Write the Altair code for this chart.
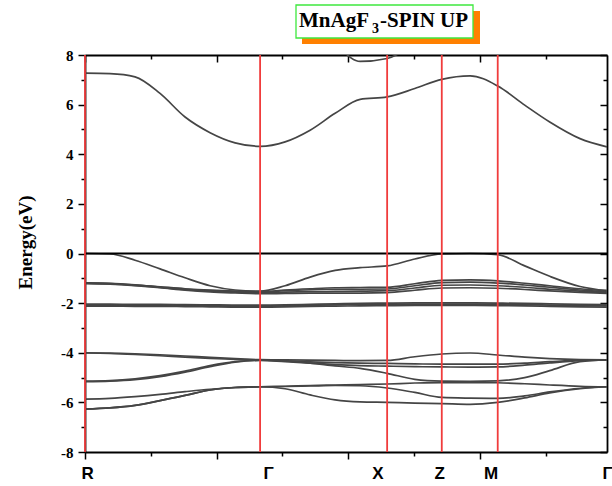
import altair as alt
import pandas as pd

# k-path positions (path length units) of the sampled points
k_grid = [0, 0.38, 0.76, 1.14, 1.52, 1.90, 2.28, 2.66, 3.04, 3.42, 3.80,
          4.18, 4.59, 5.01, 5.42, 5.85, 6.27, 6.68, 7.06, 7.52, 7.93]
nan = float("nan")

# conduction bands
c1 = [7.27, 7.25, 7.12, 6.45, 5.5, 4.87, 4.46, 4.32, 4.5, 4.97, 5.65,
      6.21, 6.31, 6.65, 7.02, 7.16, 6.75, 5.98, 5.3, 4.63, 4.3]
c2 = [nan, nan, nan, nan, nan, nan, nan, nan, nan, 9.4, 8.45,
      7.74, 7.86, 8.45, 9.2, nan, nan, nan, nan, nan, nan]
# valence bands near the Fermi level
v1 = [0.0, -0.02, -0.27, -0.62, -0.98, -1.3, -1.47, -1.52, -1.3, -0.95, -0.68,
      -0.57, -0.5, -0.22, -0.02, 0.0, -0.05, -0.5, -0.92, -1.33, -1.5]
m1 = [-1.18, -1.2, -1.26, -1.34, -1.42, -1.48, -1.52, -1.54, -1.47, -1.42, -1.38,
      -1.37, -1.36, -1.22, -1.08, -1.06, -1.1, -1.2, -1.3, -1.42, -1.5]
m2 = [-1.18, -1.21, -1.27, -1.35, -1.44, -1.5, -1.54, -1.56, -1.5, -1.46, -1.44,
      -1.44, -1.43, -1.3, -1.17, -1.15, -1.19, -1.27, -1.36, -1.47, -1.55]
m3 = [-1.2, -1.23, -1.29, -1.37, -1.46, -1.52, -1.56, -1.59, -1.56, -1.54, -1.53,
      -1.52, -1.5, -1.39, -1.28, -1.27, -1.3, -1.36, -1.44, -1.52, -1.58]
m4 = [-1.21, -1.24, -1.3, -1.38, -1.48, -1.55, -1.59, -1.62, -1.61, -1.6, -1.6,
      -1.6, -1.58, -1.48, -1.39, -1.38, -1.4, -1.45, -1.51, -1.57, -1.61]
f1 = [-2.04, -2.04, -2.05, -2.05, -2.06, -2.07, -2.08, -2.08, -2.07, -2.05, -2.03,
      -2.01, -2.0, -1.99, -1.99, -1.99, -2.0, -2.01, -2.03, -2.05, -2.06]
f2 = [-2.08, -2.08, -2.09, -2.09, -2.1, -2.11, -2.12, -2.12, -2.11, -2.09, -2.07,
      -2.06, -2.05, -2.04, -2.04, -2.04, -2.05, -2.06, -2.08, -2.1, -2.11]
f3 = [-2.12, -2.12, -2.13, -2.13, -2.14, -2.15, -2.16, -2.16, -2.15, -2.13, -2.12,
      -2.11, -2.1, -2.09, -2.09, -2.09, -2.1, -2.11, -2.13, -2.15, -2.16]
# deeper valence bands
la = [-4.0, -4.01, -4.04, -4.08, -4.13, -4.19, -4.24, -4.28, -4.29, -4.3, -4.31,
      -4.32, -4.31, -4.16, -4.05, -4.01, -4.09, -4.18, -4.24, -4.28, -4.29]
lb = [-4.01, -4.03, -4.07, -4.12, -4.18, -4.23, -4.27, -4.29, -4.33, -4.37, -4.4,
      -4.42, -4.43, -4.45, -4.46, -4.46, -4.46, -4.42, -4.36, -4.3, -4.29]
lc = [-5.14, -5.12, -5.05, -4.92, -4.74, -4.52, -4.36, -4.3, -4.36, -4.42, -4.48,
      -4.52, -4.54, -4.56, -4.57, -4.58, -4.57, -4.5, -4.41, -4.32, -4.29]
ld = [-5.16, -5.14, -5.08, -4.96, -4.78, -4.56, -4.38, -4.31, -4.33, -4.42, -4.53,
      -4.63, -4.83, -5.07, -5.14, -5.15, -5.13, -5.0, -4.72, -4.36, -4.29]
le = [-5.87, -5.84, -5.77, -5.68, -5.57, -5.47, -5.4, -5.37, -5.35, -5.32, -5.3,
      -5.28, -5.26, -5.22, -5.2, -5.2, -5.21, -5.25, -5.3, -5.35, -5.37]
lf = [-6.27, -6.22, -6.12, -5.93, -5.72, -5.5, -5.4, -5.37, -5.36, -5.34, -5.32,
      -5.33, -5.42, -5.6, -5.8, -5.83, -5.84, -5.74, -5.58, -5.43, -5.37]
lg = [-6.27, -6.22, -6.12, -5.93, -5.72, -5.5, -5.4, -5.37, -5.45, -5.7, -5.9,
      -5.98, -6.0, -6.03, -6.05, -6.08, -6.0, -5.82, -5.62, -5.45, -5.37]

# high-symmetry points
sym_k = [0, 2.66, 4.59, 5.42, 6.27]
label_names = ["R", "Γ", "X", "Z", "M", "Γ"]
label_k = [0.04, 2.79, 4.45, 5.39, 6.17, 7.94]
k_end = 7.93

band_lists = {"c1": c1, "c2": c2, "v1": v1, "m1": m1, "m2": m2, "m3": m3, "m4": m4,
              "f1": f1, "f2": f2, "f3": f3, "la": la, "lb": lb, "lc": lc,
              "ld": ld, "le": le, "lf": lf, "lg": lg}
rows = []
for name, vals in band_lists.items():
    for k, e in zip(k_grid, vals):
        if e == e:
            rows.append({"k": k, "E": e, "band": name})
bands_df = pd.DataFrame(rows)
sym_df = pd.DataFrame({"k": sym_k})
lab_df = pd.DataFrame({"k": label_k, "label": label_names})
fermi_df = pd.DataFrame({"k0": [0], "k1": [k_end], "E": [0]})
one = pd.DataFrame({"a": [0]})

W, H = 522, 397
xs = alt.Scale(domain=[0, k_end], nice=False, zero=False)
ys = alt.Scale(domain=[-8, 8], nice=False, zero=False)
axis_common = dict(domainColor="black", domainWidth=1.8, tickColor="black",
                   tickWidth=1.5, grid=False, title=None)
out_ticks = alt.ExprRef("datum.value % 2 == 0 ? 7 : 4")
in_ticks = alt.ExprRef("datum.value % 2 == 0 ? -7 : -4")

lines = alt.Chart(bands_df).mark_line(
    color="#454545", strokeWidth=1.7, interpolate="monotone", clip=True
).encode(
    x=alt.X("k:Q", scale=xs, axis=alt.Axis(orient="bottom", values=list(range(0, 8)),
                                           labels=False, tickSize=out_ticks, **axis_common)),
    y=alt.Y("E:Q", scale=ys, axis=alt.Axis(
        orient="left", values=list(range(-8, 9)), tickSize=out_ticks,
        labelExpr="datum.value % 2 == 0 ? ('' + datum.value) : ''",
        labelFont="Liberation Serif", labelFontWeight="bold", labelFontSize=15,
        labelColor="black", labelPadding=5,
        domainColor="black", domainWidth=1.8, tickColor="black", tickWidth=1.5, grid=False,
        title="Energy(eV)", titleFont="Liberation Serif", titleFontWeight="bold",
        titleFontSize=19, titleColor="black", titleX=-60, titleY=187, titleAngle=270,
        titleAlign="center", titleBaseline="middle")),
    detail="band:N",
)

fermi = alt.Chart(fermi_df).mark_rule(color="black", strokeWidth=2).encode(
    x=alt.X("k0:Q", scale=xs, axis=alt.Axis(orient="top", values=list(range(0, 8)),
                                            labels=False, tickSize=in_ticks, **axis_common)),
    x2="k1:Q",
    y=alt.Y("E:Q", scale=ys, axis=alt.Axis(orient="right", values=list(range(-8, 9)),
                                           labels=False, tickSize=in_ticks, **axis_common)),
)

red = alt.Chart(sym_df).mark_rule(color="#f03c3c", strokeWidth=1.8).encode(
    x=alt.X("k:Q", scale=xs, axis=None)
)

labels = alt.Chart(lab_df).mark_text(
    font="Liberation Sans", fontWeight="bold", fontSize=17, color="black",
    baseline="alphabetic", align="center"
).encode(
    x=alt.X("k:Q", scale=xs, axis=None),
    y=alt.value(H + 27),
    text="label:N",
)

shadow = alt.Chart(one).mark_rect(color="#ff8000").encode(
    x=alt.value(217), x2=alt.value(395), y=alt.value(-44), y2=alt.value(-11))
box = alt.Chart(one).mark_rect(fill="white", stroke="#3ee83e", strokeWidth=1.3).encode(
    x=alt.value(211), x2=alt.value(388), y=alt.value(-50), y2=alt.value(-17))
tfont = dict(font="Liberation Serif", fontWeight="bold", color="black",
             align="left", baseline="alphabetic")
t1 = alt.Chart(one).mark_text(fontSize=21, **tfont).encode(
    x=alt.value(214), y=alt.value(-28), text=alt.value("MnAgF"))
t2 = alt.Chart(one).mark_text(fontSize=14, **tfont).encode(
    x=alt.value(287), y=alt.value(-22), text=alt.value("3"))
t3 = alt.Chart(one).mark_text(fontSize=21, **tfont).encode(
    x=alt.value(295), y=alt.value(-28), text=alt.value("-SPIN UP"))

chart = alt.layer(lines, fermi, red, labels, shadow, box, t1, t2, t3).resolve_axis(
    x="independent", y="independent"
).properties(
    width=W, height=H,
    padding={"left": 85, "top": 55, "right": 5, "bottom": 34},
    autosize=alt.AutoSizeParams(type="none"),
).configure_view(stroke=None).configure(background="white")

chart.save("out.html", embed_options={"renderer": "svg", "actions": False})
